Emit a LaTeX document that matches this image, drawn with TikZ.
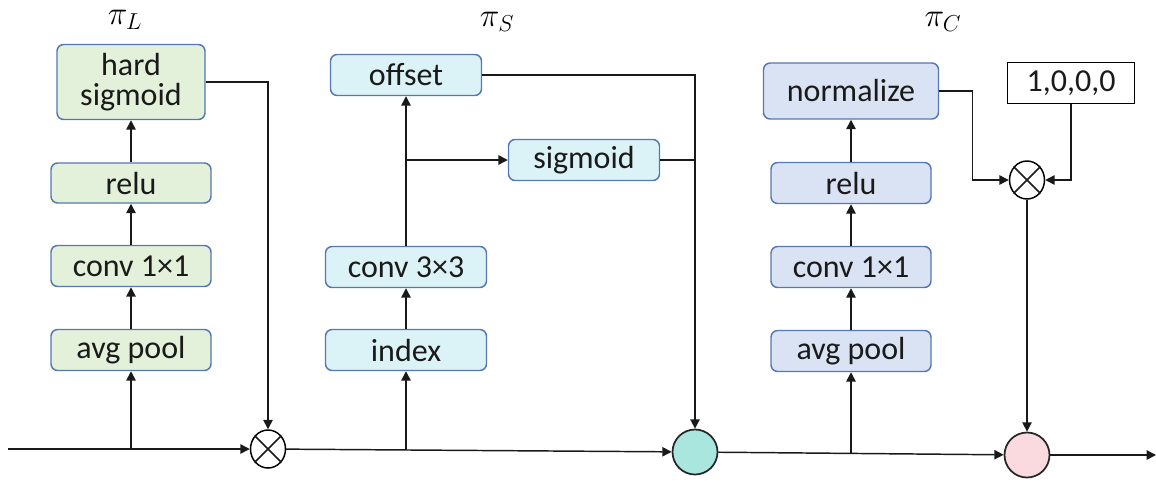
\documentclass[tikz,border=0pt]{standalone}
\usepackage{fontspec}
\setmainfont{Carlito}
\usetikzlibrary{arrows.meta,calc}

\definecolor{edgeblue}{HTML}{5577B5}
\definecolor{lgreen}{HTML}{E3F0DA}
\definecolor{lcyan}{HTML}{DBF2F6}
\definecolor{lblue}{HTML}{DAE3F3}
\definecolor{teal}{HTML}{A8E6DE}
\definecolor{pink}{HTML}{FADADE}
\definecolor{ink}{HTML}{1A1A1A}

\tikzset{
  sz/.style 2 args={minimum width=#1*0.75pt, minimum height=#2*0.75pt},
  opbox/.style={draw=edgeblue, line width=1.1pt, rounded corners=5pt, inner sep=0pt,
    text=ink, font=\fontsize{24}{25}\selectfont, align=center},
  gbox/.style={opbox, fill=lgreen},
  cbox/.style={opbox, fill=lcyan},
  bbox/.style={opbox, fill=lblue},
  vecbox/.style={draw=black, line width=0.9pt, fill=white, inner sep=0pt,
    text=ink, font=\fontsize{24}{25}\selectfont},
  mulnode/.style={ellipse, draw=black, line width=1.1pt, fill=white, inner sep=0pt,
    minimum width=35*0.75pt, minimum height=38*0.75pt},
  sumnode/.style={circle, draw=black!85, line width=1.3pt, inner sep=0pt,
    minimum size=45*0.75pt},
  title/.style={font=\fontsize{27}{30}\selectfont},
  wire/.style={line width=1.1pt, draw=black!90},
  flow/.style={wire, -{Triangle[length=7pt,width=7pt]}},
}
\usetikzlibrary{shapes.geometric}

\begin{document}
\begin{tikzpicture}[x=0.75pt, y=-0.75pt]
\useasboundingbox (0,0) rectangle (1156,480);

% titles
\node[title] (tL) at (125,20) {$\pi_L$};
\node[title] (tS) at (497,22) {$\pi_S$};
\node[title] (tC) at (943,22) {$\pi_C$};

% left branch
\node[gbox, sz={148}{75}] (hs)    at (131,82)  {hard\\[-2pt]sigmoid};
\node[gbox, sz={160}{40}] (relu1) at (131,183) {relu};
\node[gbox, sz={160}{41}] (conv1) at (131,266) {conv 1×1};
\node[gbox, sz={160}{41}] (avg1)  at (131,350) {avg pool};

% middle branch
\node[cbox, sz={151}{41}] (off)   at (406,75)  {offset};
\node[cbox, sz={151}{41}] (sig)   at (584,160) {sigmoid};
\node[cbox, sz={161}{41}] (conv3) at (406,267) {conv 3×3};
\node[cbox, sz={161}{41}] (idx)   at (406,350) {index};

% right branch
\node[bbox, sz={175}{56}] (norm)  at (851,91)  {normalize};
\node[bbox, sz={160}{41}] (relu2) at (851,183) {relu};
\node[bbox, sz={160}{41}] (conv2) at (851,267) {conv 1×1};
\node[bbox, sz={160}{41}] (avg2)  at (851,351) {avg pool};
\node[vecbox, sz={127}{41}] (vec) at (1071,83) {1,0,0,0};

% operators on the main path
\node[mulnode] (m1) at (268,449) {};
\draw[wire] (m1.45) -- (m1.225) (m1.135) -- (m1.315);
\node[sumnode, fill=teal] (s1) at (695,452) {};
\node[mulnode] (m2) at (1027,180) {};
\draw[wire] (m2.45) -- (m2.225) (m2.135) -- (m2.315);
\node[sumnode, fill=pink] (s2) at (1027,455) {};

\coordinate (in)  at (8,449);
\coordinate (out) at (1156,455);
\coordinate (j1) at (131,449);
\coordinate (j2) at (406,450);
\coordinate (j3) at (851,453);
\coordinate (j4) at (406,160);

% main path
\draw[flow] (in) -- (m1);
\draw[flow] (m1) -- (s1);
\draw[flow] (s1) -- (s2);
\draw[flow] (s2) -- (out);

% left branch wiring
\draw[flow] (j1) -- (avg1);
\draw[flow] (avg1) -- (conv1);
\draw[flow] (conv1) -- (relu1);
\draw[flow] (relu1) -- (hs);
\draw[flow] (hs.east) -| (m1.north);

% middle branch wiring
\draw[flow] (j2) -- (idx);
\draw[flow] (idx) -- (conv3);
\draw[flow] (conv3) -- (off);
\draw[flow] (j4) -- (sig.west);
\draw[flow] (off.east) -| (s1.north);
\draw[wire] (sig.east) -- (sig.east -| s1.north);

% right branch wiring
\draw[flow] (j3) -- (avg2);
\draw[flow] (avg2) -- (conv2);
\draw[flow] (conv2) -- (relu2);
\draw[flow] (relu2) -- (norm);
\draw[flow] (norm.east) -- ++(33,0) |- (m2.west);
\draw[flow] (vec.south) |- (m2.east);
\draw[flow] (m2.south) -- (s2.north);
\end{tikzpicture}
\end{document}
